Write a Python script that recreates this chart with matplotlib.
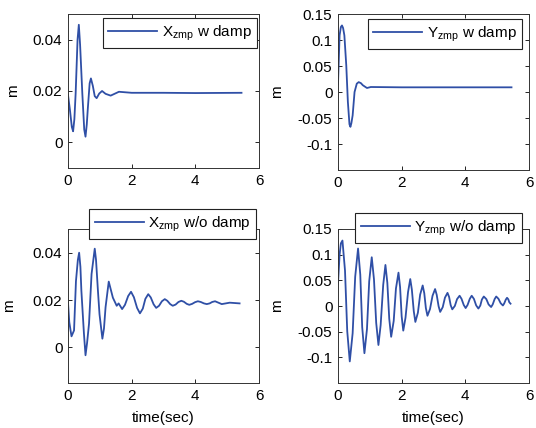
import numpy as np
import matplotlib
matplotlib.use('Agg')
from matplotlib import pyplot as plt

# ---- data (time in sec, value in m) ----
t_xw = [0.0, 0.06, 0.12, 0.16, 0.20, 0.24, 0.30, 0.34, 0.38, 0.45, 0.51, 0.55, 0.59, 0.62, 0.68, 0.72,
        0.78, 0.84, 0.90, 0.98, 1.07, 1.18, 1.34, 1.60, 2.0, 3.0, 4.0, 5.45]
x_xw = [0.0185, 0.0127, 0.006, 0.0043, 0.009, 0.019, 0.040, 0.0458, 0.038, 0.019, 0.005, 0.0022, 0.007, 0.0127, 0.023, 0.0249,
        0.022, 0.018, 0.0172, 0.0190, 0.0200, 0.0189, 0.0182, 0.0197, 0.0193, 0.0193, 0.0192, 0.0193]

t_yw = [0.0, 0.05, 0.09, 0.125, 0.16, 0.20, 0.26, 0.31, 0.36, 0.39, 0.42, 0.46, 0.52, 0.59, 0.65, 0.72, 0.78, 0.91, 1.03, 2.0, 5.45]
y_yw = [0.015, 0.109, 0.125, 0.128, 0.123, 0.109, 0.051, -0.019, -0.062, -0.067, -0.060, -0.045, 0.0, 0.016, 0.019, 0.017, 0.013,
        0.0077, 0.0096, 0.009, 0.009]

t_xo = [0.0, 0.04, 0.11, 0.19, 0.25, 0.31, 0.35, 0.39, 0.42, 0.50, 0.55, 0.60, 0.66, 0.74, 0.84, 0.88, 0.94, 0.99, 1.08, 1.13,
        1.18, 1.28, 1.41, 1.53, 1.59, 1.70, 1.79, 1.89, 1.98, 2.07, 2.17, 2.26, 2.35, 2.43, 2.52, 2.60, 2.69, 2.77,
        2.86, 2.95, 3.04, 3.12, 3.21, 3.29, 3.38, 3.47, 3.56, 3.64, 3.73, 3.81, 3.90, 3.99, 4.08, 4.17, 4.27, 4.36,
        4.45, 4.53, 4.62, 4.83, 5.08, 5.39]
x_xo = [0.019, 0.0107, 0.0047, 0.0072, 0.028, 0.037, 0.040, 0.034, 0.024, 0.006, -0.0033, 0.002, 0.010, 0.031, 0.0417, 0.037,
        0.024, 0.014, 0.0037, 0.008,
        0.017, 0.0278, 0.021, 0.0176, 0.0186, 0.0162, 0.0180, 0.0217, 0.0235, 0.0212, 0.0167, 0.0144, 0.0164, 0.0205, 0.0225,
        0.0211, 0.0182, 0.0167,
        0.0176, 0.0195, 0.0204, 0.0197, 0.0183, 0.0176, 0.0181, 0.0192, 0.0197, 0.0193, 0.0184, 0.018, 0.0184, 0.0191,
        0.0195, 0.0192, 0.0186, 0.0183,
        0.0186, 0.0192, 0.0195, 0.0183, 0.0189, 0.0186]

t_yo = [0.0, 0.05, 0.09, 0.14, 0.22, 0.29, 0.37, 0.46, 0.54, 0.63, 0.70, 0.76, 0.83, 0.91, 0.98, 1.06, 1.13, 1.20,
        1.27, 1.34, 1.42, 1.49, 1.55, 1.61, 1.67, 1.75, 1.82, 1.90, 1.95, 2.00, 2.05, 2.12, 2.20, 2.27, 2.32, 2.38,
        2.43, 2.51, 2.58, 2.66, 2.71, 2.76, 2.81, 2.89, 2.97, 3.05, 3.10, 3.16, 3.21, 3.29, 3.36, 3.44, 3.49, 3.54,
        3.59, 3.67, 3.74, 3.82, 3.88, 3.95, 4.01, 4.07, 4.14, 4.20, 4.27, 4.34, 4.41, 4.47, 4.52, 4.58, 4.66, 4.73,
        4.81, 4.86, 4.92, 4.97, 5.04, 5.11, 5.18, 5.22, 5.27, 5.31, 5.35, 5.38, 5.42]
y_yo = [0.043, 0.100, 0.122, 0.1275, 0.069, -0.049, -0.108, -0.053, 0.057, 0.112, 0.061, -0.041, -0.092, -0.045, 0.048, 0.095,
        0.052, -0.033,
        -0.076, -0.037, 0.041, 0.080, 0.045, -0.025, -0.060, -0.029, 0.034, 0.065, 0.037, -0.020, -0.048, -0.023, 0.027, 0.0525,
        0.032, -0.010,
        -0.031, -0.013, 0.022, 0.040, 0.025, -0.004, -0.019, -0.006, 0.020, 0.033, 0.022, -0.0004, -0.0115, -0.0022, 0.0163, 0.0256,
        0.0176, 0.0015,
        -0.0065, 0.0001, 0.0134, 0.020, 0.014, 0.002, -0.004, 0.002, 0.014, 0.020, 0.0138, 0.0012, -0.005, 0.0009, 0.0126, 0.0185,
        0.0134, 0.0031,
        -0.002, 0.0031, 0.0134, 0.0185, 0.0141, 0.0054, 0.001, 0.0048, 0.0123, 0.016, 0.013, 0.0074, 0.0045]

labels = [r'X$_{\mathregular{zmp}}$ w damp', r'Y$_{\mathregular{zmp}}$ w damp',
          r'X$_{\mathregular{zmp}}$ w/o damp', r'Y$_{\mathregular{zmp}}$ w/o damp']

plt.rcParams['font.family'] = ['Liberation Sans', 'DejaVu Sans']
plt.rcParams['font.size'] = 11
plt.rcParams['mathtext.fontset'] = 'custom'
plt.rcParams['mathtext.rm'] = 'Liberation Sans'
plt.rcParams['mathtext.it'] = 'Liberation Sans'

W, H = 536, 428
fig = plt.figure(figsize=(W / 100, H / 100), dpi=100)

def px_axes(l, r, t, b):
    return fig.add_axes([l / W, 1 - b / H, (r - l) / W, (b - t) / H])

lc = '#2f4fa6'
yt_small = [0, 0.02, 0.04]
ytl_small = ['0', '0.02', '0.04']
yt_big = [-0.1, -0.05, 0, 0.05, 0.1, 0.15]
ytl_big = ['-0.1', '-0.05', '0', '0.05', '0.1', '0.15']
# axes, data, label, ylim, ticks, legend corner (px), ylabel x (axes frac)
panels = [
    (px_axes(68, 259, 14, 168), t_xw, x_xw, labels[0], (-0.01, 0.05), yt_small, ytl_small, (257, 18), -0.25),
    (px_axes(338, 529, 14, 170), t_yw, y_yw, labels[1], (-0.15, 0.15), yt_big, ytl_big, (522, 19), -0.285),
    (px_axes(68, 259, 229, 383), t_xo, x_xo, labels[2], (-0.015, 0.05), yt_small, ytl_small, (256, 209), -0.27),
    (px_axes(338, 529, 229, 383), t_yo, y_yo, labels[3], (-0.15, 0.15), yt_big, ytl_big, (522, 213), -0.285),
]

for i, (ax, t, v, lab, ylim, yt, ytl, lpos, ylx) in enumerate(panels):
    ax.plot(t, v, color=lc, lw=1.3, label=lab)
    ax.set_xlim(0, 6)
    ax.set_ylim(*ylim)
    ax.set_xticks([0, 2, 4, 6])
    ax.set_xticklabels(['0', '2', '4', '6'])
    ax.set_yticks(yt)
    ax.set_yticklabels(ytl)
    ax.tick_params(direction='in', length=3, width=0.6, top=True, right=True, pad=4, labelsize=11)
    for s in ax.spines.values():
        s.set_linewidth(0.7)
        s.set_color('#333333')
    ax.set_ylabel('m')
    ax.yaxis.set_label_coords(ylx, 0.5)
    if i >= 2:
        ax.set_xlabel('time(sec)', labelpad=6)
    leg = ax.legend(loc='upper right', bbox_to_anchor=(lpos[0] / W, 1 - lpos[1] / H),
                    bbox_transform=fig.transFigure, fancybox=False, framealpha=1,
                    edgecolor='#222222', handlelength=3.2, borderpad=0.35, handletextpad=0.3,
                    borderaxespad=0, fontsize=11)
    leg.get_frame().set_linewidth(0.8)

fig.savefig('out.png', dpi=100)
